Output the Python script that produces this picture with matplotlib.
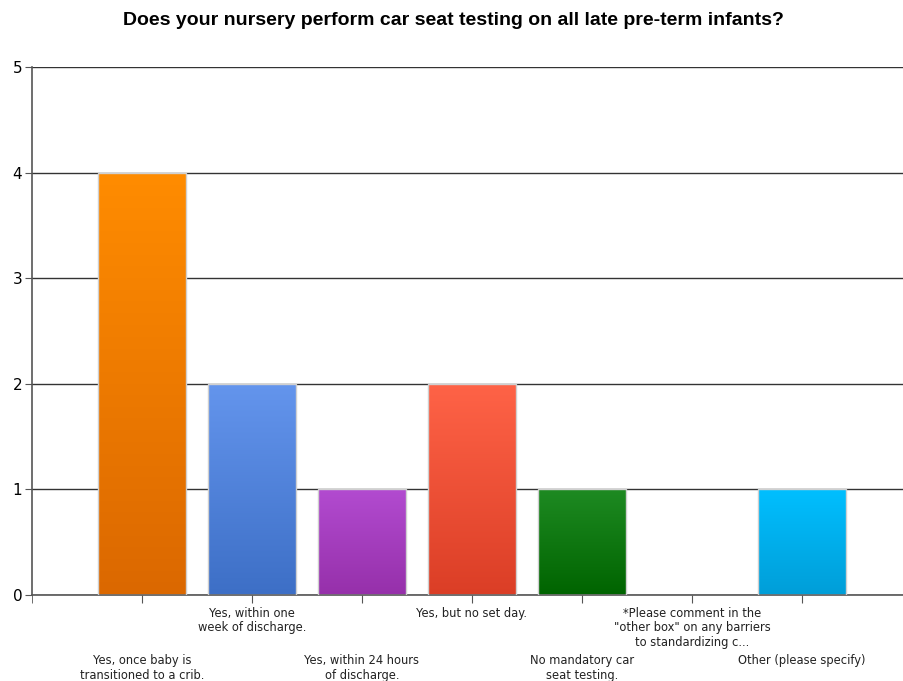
import matplotlib.pyplot as plt
import numpy as np
from matplotlib.colors import LinearSegmentedColormap

title = "Does your nursery perform car seat testing on all late pre-term infants?"
categories = [
    "Yes, once baby is\ntransitioned to a crib.",
    "Yes, within one\nweek of discharge.",
    "Yes, within 24 hours\nof discharge.",
    "Yes, but no set day.",
    "No mandatory car\nseat testing.",
    "*Please comment in the\n\"other box\" on any barriers\nto standardizing c...",
    "Other (please specify)",
]
counts = [4, 2, 1, 2, 1, 0, 1]
# (top colour, bottom colour) for each bar
top_colors = ["#FF8C00", "#6495ED", "#B24BD0", "#FF6347", "#1E8A22", "#00BFFF", "#00BFFF"]
bottom_colors = ["#DB6800", "#3D6FC6", "#9630AA", "#DB3E26", "#006400", "#009ED8", "#009ED8"]

fig = plt.figure(figsize=(9.04, 6.81), dpi=100)
ax = fig.add_axes([0.0354, 0.1263, 0.9636, 0.7753])

x = np.arange(len(categories))
edge = ["#D0D0D0" if v > 0 else "none" for v in counts]
bars = ax.bar(x, counts, width=0.8, color="none", edgecolor=edge, linewidth=1.0, zorder=3)

grad = np.linspace(0, 1, 256).reshape(-1, 1)
for b, c0, c1, v in zip(bars, top_colors, bottom_colors, counts):
    if v <= 0:
        continue
    cmap = LinearSegmentedColormap.from_list("g", [c1, c0])
    bx, by = b.get_x(), b.get_y()
    im = ax.imshow(grad, cmap=cmap, origin="lower", aspect="auto",
                   extent=(bx, bx + b.get_width(), by, by + b.get_height()), zorder=2)
    im.set_clip_path(b)

ax.set_xlim(-1, 6.92)
ax.set_ylim(0, 5)
ax.set_yticks(range(0, 6))
ax.yaxis.grid(True, color="#333333", linewidth=1.0, zorder=1)
ax.set_axisbelow(True)

ax.set_xticks(x)
ax.set_xticklabels([])
ax.set_xticks([-1], minor=True)
ax.tick_params(axis="x", which="both", length=6, color="#555555", direction="out")
ax.tick_params(axis="y", length=5, color="#555555", labelsize=11, pad=2)

for s in ["top", "right"]:
    ax.spines[s].set_visible(False)
for s in ["left", "bottom"]:
    ax.spines[s].set_color("#555555")
    ax.spines[s].set_linewidth(1.2)

# staggered category labels
for i, lab in enumerate(categories):
    y = -0.11 if i % 2 == 1 else -0.56
    ax.text(i, y, lab, ha="center", va="top", fontsize=8.3, color="#222222",
            transform=ax.transData, clip_on=False, linespacing=1.15)

fig.text(0.502, 0.97, title, ha="center", va="center", fontsize=14,
         fontweight="bold", family="Liberation Sans")

fig.savefig("out.png", dpi=100)
